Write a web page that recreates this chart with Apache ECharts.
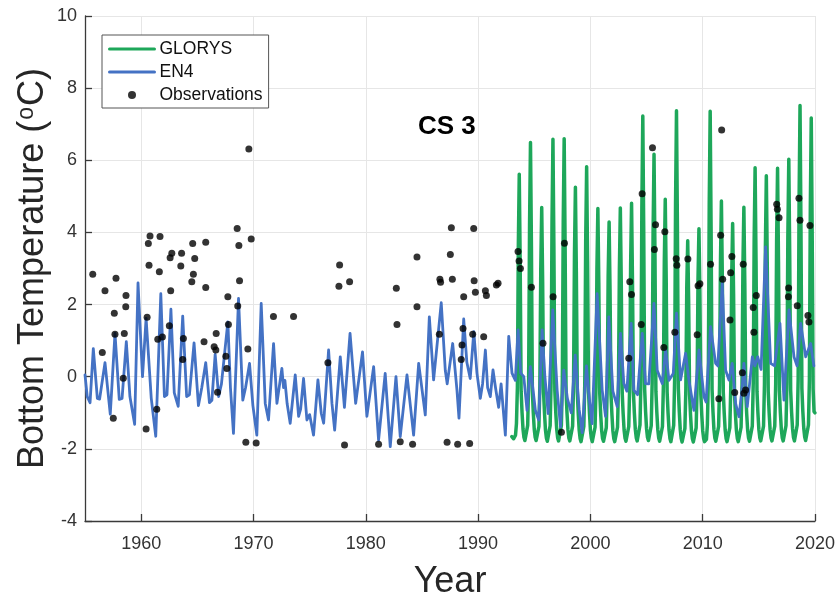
<!DOCTYPE html>
<html>
<head>
<meta charset="utf-8">
<script src="https://cdn.jsdelivr.net/npm/echarts@6/dist/echarts.min.js"></script>
<style>
  html, body { margin: 0; padding: 0; background: #ffffff; }
  #chart { width: 838px; height: 597px; }
</style>
</head>
<body>
<div id="chart"></div>
<script>
// GLORYS reanalysis: monthly bottom temperature (°C), Jan 1993 .. Jan 2020
const glorysStartYear = 1993;
const glorysMonthly = [
  -1.66,-1.70,-1.72,-1.72,-1.62,-1.30,-0.30, 3.60, 5.61, 3.10,-0.40,-1.00,
  -1.45,-1.68,-1.77,-1.79,-1.72,-1.35,-0.20, 4.20, 6.49, 3.60,-0.40,-1.00,
  -1.45,-1.68,-1.77,-1.80,-1.73,-1.38,-0.25, 3.00, 4.69, 2.60,-0.45,-1.02,
  -1.47,-1.70,-1.79,-1.82,-1.74,-1.36,-0.15, 4.30, 6.58, 3.60,-0.38,-0.98,
  -1.45,-1.69,-1.78,-1.80,-1.73,-1.35,-0.18, 4.30, 6.60, 3.60,-0.40,-1.00,
  -1.46,-1.70,-1.78,-1.81,-1.74,-1.37,-0.22, 3.40, 5.25, 2.90,-0.42,-1.01,
  -1.47,-1.71,-1.80,-1.84,-1.76,-1.38,-0.20, 3.80, 5.82, 3.20,-0.40,-1.00,
  -1.47,-1.70,-1.80,-1.85,-1.76,-1.40,-0.28, 3.00, 4.66, 2.60,-0.46,-1.03,
  -1.48,-1.71,-1.79,-1.82,-1.75,-1.41,-0.30, 2.80, 4.29, 2.40,-0.48,-1.04,
  -1.49,-1.71,-1.80,-1.83,-1.76,-1.40,-0.27, 3.00, 4.68, 2.60,-0.45,-1.02,
  -1.47,-1.70,-1.79,-1.81,-1.74,-1.38,-0.25, 3.10, 4.81, 2.60,-0.44,-1.01,
  -1.46,-1.69,-1.78,-1.80,-1.73,-1.34,-0.12, 4.70, 7.23, 4.00,-0.35,-0.97,
  -1.44,-1.68,-1.77,-1.80,-1.73,-1.36,-0.18, 4.00, 6.17, 3.40,-0.40,-0.99,
  -1.46,-1.70,-1.79,-1.82,-1.75,-1.38,-0.24, 3.20, 4.92, 2.70,-0.43,-1.01,
  -1.47,-1.71,-1.80,-1.83,-1.75,-1.35,-0.10, 4.80, 7.37, 4.10,-0.34,-0.97,
  -1.46,-1.71,-1.81,-1.85,-1.78,-1.43,-0.35, 2.50, 3.77, 2.10,-0.50,-1.06,
  -1.50,-1.72,-1.81,-1.84,-1.77,-1.42,-0.32, 2.70, 4.10, 2.30,-0.48,-1.05,
  -1.49,-1.71,-1.80,-1.82,-1.74,-1.34,-0.10, 4.80, 7.36, 4.00,-0.34,-0.97,
  -1.46,-1.70,-1.79,-1.81,-1.74,-1.38,-0.24, 3.20, 4.87, 2.70,-0.43,-1.01,
  -1.47,-1.71,-1.80,-1.83,-1.76,-1.41,-0.30, 2.80, 4.25, 2.30,-0.47,-1.04,
  -1.48,-1.71,-1.80,-1.84,-1.77,-1.40,-0.26, 3.10, 4.70, 2.60,-0.45,-1.02,
  -1.47,-1.70,-1.79,-1.82,-1.75,-1.37,-0.20, 3.80, 5.79, 3.20,-0.40,-1.00,
  -1.46,-1.69,-1.78,-1.81,-1.74,-1.37,-0.21, 3.60, 5.57, 3.10,-0.41,-1.00,
  -1.46,-1.69,-1.78,-1.80,-1.74,-1.37,-0.20, 3.80, 5.78, 3.20,-0.40,-1.00,
  -1.45,-1.69,-1.78,-1.80,-1.73,-1.36,-0.18, 3.90, 6.03, 3.30,-0.39,-0.99,
  -1.44,-1.68,-1.78,-1.81,-1.74,-1.34,-0.08, 4.90, 7.52, 4.10,-0.33,-0.96,
  -1.43,-1.67,-1.77,-1.80,-1.73,-1.34,-0.10, 4.70, 7.17, 3.90,-0.35,-0.97,
  -1.00
];

// EN4 objective analysis: bottom temperature at its turning points
const en4Years = [
  1955.00,1955.20,1955.45,1955.74,1956.10,1956.30,1956.78,1957.25,1957.67,1958.05,
  1958.30,1958.68,1959.00,1959.42,1959.72,1960.12,1960.44,1960.90,1961.30,1961.75,
  1962.07,1962.30,1962.65,1962.95,1963.30,1963.70,1964.05,1964.30,1964.71,1965.10,
  1965.40,1965.75,1966.08,1966.30,1966.59,1966.90,1967.15,1967.72,1967.95,1968.22,
  1968.67,1969.05,1969.30,1969.65,1969.95,1970.30,1970.69,1971.05,1971.34,1971.79,
  1972.09,1972.53,1972.68,1972.80,1973.00,1973.27,1973.72,1974.02,1974.20,1974.46,
  1974.76,1975.00,1975.35,1975.74,1976.04,1976.25,1976.69,1976.99,1977.23,1977.73,
  1978.10,1978.60,1979.10,1979.25,1979.71,1980.10,1980.25,1980.70,1981.14,1981.73,
  1982.18,1982.69,1983.07,1983.67,1984.26,1984.71,1985.30,1985.66,1986.04,1986.72,
  1987.08,1987.25,1987.74,1988.12,1988.30,1988.72,1989.00,1989.30,1989.62,1989.90,
  1990.20,1990.40,1990.65,1990.85,1991.09,1991.33,1991.55,1991.83,1992.05,1992.43,
  1992.73,1993.02,1993.32,1993.56,1993.80,1994.07,1994.36,1994.66,1995.10,1995.40,
  1995.70,1995.95,1996.24,1996.65,1997.04,1997.34,1997.63,1997.95,1998.30,1998.65,
  1999.00,1999.27,1999.65,1999.90,2000.15,2000.60,2001.05,2001.35,2001.64,2002.00,
  2002.39,2002.68,2002.98,2003.25,2003.63,2003.87,2004.20,2004.62,2004.91,2005.20,
  2005.66,2005.95,2006.40,2006.70,2007.00,2007.38,2007.67,2008.03,2008.48,2008.77,
  2009.22,2009.67,2010.11,2010.30,2010.70,2011.15,2011.35,2011.74,2012.04,2012.34,
  2012.63,2012.93,2013.23,2013.52,2013.67,2013.97,2014.42,2014.65,2014.90,2015.20,
  2015.60,2016.05,2016.40,2016.88,2017.24,2017.68,2018.13,2018.40,2018.72,2019.17,
  2019.61,2019.90
];
const en4Values = [
   0.05,-0.55,-0.72, 0.78,-0.60,-0.62, 0.39,-1.04, 1.20,-0.63,
  -0.60, 0.97,-0.55,-1.32, 2.60, 0.00, 1.62,-0.60,-1.65, 2.30,
  -0.55,-0.50, 1.87,-0.45,-0.82, 1.68,-0.55,-0.50, 0.94,-0.80,
  -0.30, 0.39,-0.72,-0.65, 0.62,-0.55,-0.20, 1.52,-0.30,-1.57,
   2.17,-0.65,-0.30, 0.37,-0.80,-1.62, 2.03,-0.74,-1.20, 0.92,
  -0.74, 0.23,-0.30,-0.10,-0.75,-1.29, 0.05,-1.10,-0.90,-0.05,
  -1.20,-1.05,-1.62,-0.09,-1.02,-1.29, 0.74,-0.74,-1.48, 0.55,
  -0.85, 1.20,-0.74,-0.70, 0.69,-1.10,-1.05, 0.28,-1.76, 0.09,
  -1.94, 0.00,-1.66, 0.05,-1.62, 0.37,-1.06, 1.66,-0.09, 2.05,
   0.18,-0.20, 0.92,-0.37,-1.15, 1.60, 0.40,-0.05, 1.25, 0.10,
  -0.60,-0.20, 0.74,-0.30,-0.55, 0.19,-0.30,-0.85,-0.20,-1.62,
   1.12, 0.10,-0.10, 1.30, 0.10, 0.00,-0.93, 0.28,-0.93,-1.20,
   1.30, 0.00,-1.02, 1.85,-0.37,-1.39, 0.18,-0.60,-1.00, 0.60,
  -0.90,-1.55, 0.30,-0.60,-1.30, 2.30,-0.37,-1.10, 1.66,-0.40,
  -0.83, 1.20,-0.19,-0.40, 1.48,-0.37,-0.50, 1.20,-0.19,-0.20,
   2.03, 0.18,-0.19, 0.74,-0.10, 0.09, 1.76,-0.09, 0.65,-0.09,
  -0.93, 0.74,-0.55,-0.70, 1.39, 0.37, 0.30, 2.59, 0.18,-0.09,
   0.37,-0.74,-1.11,-0.28, 0.37,-0.83, 0.55, 0.30, 0.55, 0.20,
   3.60, 0.37, 0.30, 1.48,-0.65, 1.85, 0.55, 0.30, 1.48, 0.55,
   0.92, 0.30
];

// In-situ observations
const obsYears = [
  1955.69,1956.54,1956.78,1957.52,1957.61,1957.67,1957.76,1958.41,1958.50,1958.63,
  1958.65,1960.44,1960.53,1960.64,1960.70,1960.79,1961.39,1961.48,1961.62,1961.68,
  1961.89,1962.51,1962.58,1962.63,1962.73,1963.53,1963.60,1963.70,1963.76,1964.51,
  1964.59,1964.65,1964.77,1965.60,1965.75,1965.75,1966.50,1966.65,1966.68,1966.80,
  1967.54,1967.63,1967.72,1967.77,1968.55,1968.60,1968.70,1968.76,1969.32,1969.50,
  1969.59,1969.80,1970.24,1971.78,1973.57,1976.63,1977.61,1977.67,1978.11,1978.56,
  1981.14,1982.72,1982.78,1983.07,1984.17,1984.56,1984.56,1986.55,1986.60,1986.66,
  1987.24,1987.53,1987.62,1987.71,1988.18,1988.50,1988.57,1988.66,1988.72,1989.25,
  1989.52,1989.61,1989.65,1989.76,1990.50,1990.65,1990.74,1991.63,1991.78,1993.56,
  1993.65,1993.77,1994.75,1995.78,1996.68,1997.42,1997.69,2003.42,2003.51,2003.66,
  2004.53,2004.61,2005.53,2005.70,2005.80,2006.54,2006.63,2007.52,2007.64,2007.70,
  2008.68,2009.51,2009.59,2009.75,2010.70,2011.44,2011.60,2011.69,2011.78,2012.43,
  2012.49,2012.60,2012.85,2013.53,2013.61,2013.67,2013.82,2014.50,2014.56,2014.77,
  2016.59,2016.65,2016.80,2017.63,2017.65,2018.42,2018.57,2018.66,2019.37,2019.46,
  2019.55
];
const obsValues = [
   2.84, 0.67, 2.38,-1.15, 1.76, 1.18, 2.73,-0.04, 1.20, 1.94,
   2.25,-1.45, 1.65, 3.69, 3.09, 3.90,-0.90, 1.04, 2.91, 3.89,
   1.10, 1.41, 3.30, 2.38, 3.42, 3.07, 3.42, 0.48, 1.06, 2.63,
   3.69, 2.84, 3.28, 0.97, 3.73, 2.47, 0.83, 0.74, 1.20,-0.43,
   0.57, 0.23, 2.22, 1.45, 4.11, 1.96, 3.64, 2.66,-1.82, 0.77,
   6.31, 3.82,-1.84, 1.67, 1.67, 0.39, 2.51, 3.10,-1.89, 2.63,
  -1.87, 2.45, 1.45,-1.80,-1.87, 3.32, 1.94, 1.18, 2.70, 2.62,
  -1.82, 3.39, 4.13, 2.70,-1.87, 0.48, 0.88, 1.34, 2.22,-1.85,
   1.18, 4.11, 2.66, 2.34, 1.11, 2.38, 2.25, 2.54, 2.59, 3.47,
   3.21, 3.00, 2.48, 0.93, 2.22,-1.54, 3.70, 0.51, 2.63, 2.28,
   1.45, 5.07, 6.35, 3.53, 4.21, 0.81, 4.02, 1.23, 3.27, 3.09,
   3.26, 1.16, 2.52, 2.58, 3.12,-0.61, 3.92, 6.84, 2.70, 1.57,
   2.88, 3.33,-0.44, 0.11, 3.12,-0.46,-0.37, 1.92, 1.23, 2.25,
   4.78, 4.64, 4.41, 2.22, 2.46, 1.97, 4.95, 4.34, 1.70, 1.52,
   4.19
];

// Axis ticks
const xTickYears = [1960, 1970, 1980, 1990, 2000, 2010, 2020];
const yMin = -4, yMax = 10, yStep = 2;

const glorysData = glorysMonthly.map((v, i) => [glorysStartYear + i / 12, v]);
const en4Data = en4Years.map((t, i) => [t, en4Values[i]]);
const obsData = obsYears.map((t, i) => [t, obsValues[i]]);

const FONT = '"Liberation Sans", Arial, Helvetica, sans-serif';
const AXIS_COLOR = '#3a3a3a';
const GRID_COLOR = '#e6e6e6';
const GREEN = '#1ea75a';
const BLUE = '#4472c4';

const chart = echarts.init(document.getElementById('chart'), null, { renderer: 'canvas' });

chart.setOption({
  animation: false,
  backgroundColor: '#ffffff',
  textStyle: { fontFamily: FONT },
  grid: { left: 85, right: 23, top: 16, bottom: 76, containLabel: false, outerBoundsMode: 'none' },
  graphic: [{
    type: 'text',
    left: 418,
    top: 114,
    style: { text: 'CS 3', font: 'bold 26px ' + FONT, fill: '#000000' }
  }],
  legend: {
    orient: 'vertical',
    left: 102,
    top: 35,
    padding: [4, 6, 3, 6],
    itemWidth: 45,
    itemHeight: 8,
    itemGap: 3,
    backgroundColor: '#ffffff',
    borderColor: '#555555',
    borderWidth: 1,
    borderRadius: 0,
    selectedMode: false,
    textStyle: { fontSize: 17.5, lineHeight: 20, color: '#111111', fontFamily: FONT },
    data: [
      { name: 'GLORYS', itemStyle: { opacity: 0 }, lineStyle: { width: 3 } },
      { name: 'EN4', itemStyle: { opacity: 0 }, lineStyle: { width: 3 } },
      { name: 'Observations' }
    ]
  },
  xAxis: {
    type: 'value',
    min: 1955,
    max: 2020,
    name: 'Year',
    nameLocation: 'middle',
    nameGap: 43,
    nameTextStyle: { fontSize: 36, color: '#262626', fontFamily: FONT },
    axisLine: { show: true, onZero: false, lineStyle: { color: AXIS_COLOR, width: 1.3 } },
    axisTick: { show: true, inside: true, length: 7, customValues: xTickYears, lineStyle: { color: AXIS_COLOR, width: 1.3 } },
    axisLabel: {
      customValues: xTickYears, fontSize: 18, color: '#333333', margin: 14, fontFamily: FONT,
      formatter: v => String(v)
    },
    splitLine: { show: true, lineStyle: { color: GRID_COLOR, width: 1 } }
  },
  yAxis: {
    type: 'value',
    min: yMin,
    max: yMax,
    interval: yStep,
    name: 'Bottom Temperature ({s|o}C)',
    nameLocation: 'middle',
    nameRotate: 90,
    nameGap: 33,
    nameMoveOverlap: false,
    nameTextStyle: {
      fontSize: 36, color: '#262626', fontFamily: FONT,
      rich: { s: { fontSize: 23, verticalAlign: 'top', color: '#262626', fontFamily: FONT, padding: [0, 1, 14, 1] } }
    },
    axisLine: { show: true, onZero: false, lineStyle: { color: AXIS_COLOR, width: 1.3 } },
    axisTick: { show: true, inside: true, length: 7, lineStyle: { color: AXIS_COLOR, width: 1.3 } },
    axisLabel: { fontSize: 18, color: '#333333', margin: 8, fontFamily: FONT },
    splitLine: { show: true, lineStyle: { color: GRID_COLOR, width: 1 } }
  },
  series: [
    {
      name: 'GLORYS',
      type: 'line',
      data: glorysData,
      symbol: 'none',
      smooth: false,
      lineStyle: { color: GREEN, width: 3.5, join: 'round', cap: 'round' },
      itemStyle: { color: GREEN },
      z: 2
    },
    {
      name: 'EN4',
      type: 'line',
      data: en4Data,
      symbol: 'none',
      smooth: false,
      lineStyle: { color: BLUE, width: 2.8, join: 'round', cap: 'round' },
      itemStyle: { color: BLUE },
      z: 3
    },
    {
      name: 'Observations',
      type: 'scatter',
      data: obsData,
      symbol: 'circle',
      symbolSize: 7,
      itemStyle: { color: '#000000' },
      z: 4
    }
  ]
});
</script>
</body>
</html>
